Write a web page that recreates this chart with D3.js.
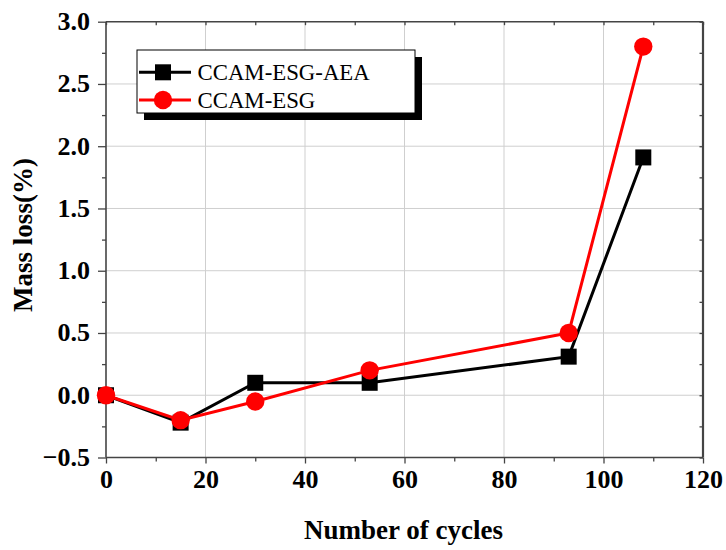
<!DOCTYPE html>
<html>
<head>
<meta charset="utf-8">
<script src="https://cdn.jsdelivr.net/npm/d3@7/dist/d3.min.js"></script>
<style>
  html, body { margin: 0; padding: 0; background: #fff; }
  svg { display: block; }
  .tick text { font-family: "Liberation Serif", "Times New Roman", serif; font-weight: bold; }
</style>
</head>
<body>
<svg id="chart" width="726" height="550"></svg>
<script>
// Mass loss vs. freeze-thaw cycles
const cycles = [0, 15, 30, 53, 93, 108];
const aeaLoss = [0, -0.22, 0.1, 0.1, 0.31, 1.91];   // CCAM-ESG-AEA
const esgLoss = [0, -0.2, -0.05, 0.2, 0.5, 2.8];    // CCAM-ESG
const seriesNames = ["CCAM-ESG-AEA", "CCAM-ESG"];
const xMajorTicks = [0, 20, 40, 60, 80, 100, 120];
const xMinorTicks = [10, 30, 50, 70, 90, 110];
const yMajorTicks = [-0.5, 0.0, 0.5, 1.0, 1.5, 2.0, 2.5, 3.0];
const yMinorTicks = [-0.25, 0.25, 0.75, 1.25, 1.75, 2.25, 2.75];

const svg = d3.select("#chart");
const L = 106, R = 703, T = 21.7, B = 457.5;

const x = d3.scaleLinear().domain([0, 120]).range([L, R]);
const y = d3.scaleLinear().domain([-0.5, 3.0]).range([B, T]);

const serif = '"Liberation Serif", "Times New Roman", serif';
const frameColor = "#444";

// grid
const grid = svg.append("g");
grid.selectAll("line.gx").data(xMajorTicks.slice(1, -1)).join("line")
  .attr("x1", d => x(d)).attr("x2", d => x(d)).attr("y1", T).attr("y2", B)
  .attr("stroke", "#cfcfcf").attr("stroke-width", 1);
grid.selectAll("line.gy").data(yMajorTicks.slice(1, -1)).join("line")
  .attr("y1", d => y(d)).attr("y2", d => y(d)).attr("x1", L).attr("x2", R)
  .attr("stroke", "#cfcfcf").attr("stroke-width", 1);

function styleAxis(g) {
  g.select(".domain").remove();
  g.selectAll(".tick line").attr("stroke", frameColor).attr("stroke-width", 1.3);
}

// bottom axis
svg.append("g").attr("transform", `translate(0,${B})`)
  .call(d3.axisBottom(x).tickValues(xMajorTicks).tickSize(6).tickPadding(4).tickFormat(d3.format("d")))
  .call(styleAxis)
  .selectAll("text").attr("font-size", 26).attr("fill", "#000").attr("font-family", serif)
  .attr("dy", "0.78em");
svg.append("g").attr("transform", `translate(0,${B})`)
  .call(d3.axisBottom(x).tickValues(xMinorTicks).tickSize(4).tickFormat(""))
  .call(styleAxis);

// left axis
svg.append("g").attr("transform", `translate(${L},0)`)
  .call(d3.axisLeft(y).tickValues(yMajorTicks).tickSize(8).tickPadding(8).tickFormat(d3.format(".1f")))
  .call(styleAxis)
  .selectAll("text").attr("font-size", 26).attr("fill", "#000").attr("font-family", serif)
  .attr("dy", "0.3em");
svg.append("g").attr("transform", `translate(${L},0)`)
  .call(d3.axisLeft(y).tickValues(yMinorTicks).tickSize(4).tickFormat(""))
  .call(styleAxis);

// top & right mirror ticks (inward)
svg.append("g").attr("transform", `translate(0,${T})`)
  .call(d3.axisBottom(x).tickValues(xMajorTicks.concat(xMinorTicks)).tickSize(3.5).tickFormat(""))
  .call(styleAxis);
svg.append("g").attr("transform", `translate(${R},0)`)
  .call(d3.axisLeft(y).tickValues(yMajorTicks.concat(yMinorTicks)).tickSize(3.5).tickFormat(""))
  .call(styleAxis);

// frame
svg.append("line").attr("x1", L).attr("x2", R).attr("y1", B).attr("y2", B)
  .attr("stroke", frameColor).attr("stroke-width", 1.6);
svg.append("line").attr("x1", L).attr("x2", L).attr("y1", T).attr("y2", B)
  .attr("stroke", frameColor).attr("stroke-width", 1.6);
svg.append("line").attr("x1", L).attr("x2", R).attr("y1", T).attr("y2", T)
  .attr("stroke", frameColor).attr("stroke-width", 1.6);
svg.append("line").attr("x1", R).attr("x2", R).attr("y1", T).attr("y2", B)
  .attr("stroke", frameColor).attr("stroke-width", 2.2);

// series
const line = d3.line().x(d => x(d[0])).y(d => y(d[1]));
const aeaPts = cycles.map((c, i) => [c, aeaLoss[i]]);
const esgPts = cycles.map((c, i) => [c, esgLoss[i]]);

svg.append("path").datum(aeaPts).attr("d", line)
  .attr("fill", "none").attr("stroke", "#000").attr("stroke-width", 3);
svg.append("g").selectAll("rect").data(aeaPts).join("rect")
  .attr("x", d => x(d[0]) - 8).attr("y", d => y(d[1]) - 8)
  .attr("width", 16).attr("height", 16).attr("fill", "#000");

svg.append("path").datum(esgPts).attr("d", line)
  .attr("fill", "none").attr("stroke", "#ff0000").attr("stroke-width", 3);
svg.append("g").selectAll("circle").data(esgPts).join("circle")
  .attr("cx", d => x(d[0])).attr("cy", d => y(d[1])).attr("r", 9.2)
  .attr("fill", "#ff0000");

// axis titles
svg.append("text").attr("x", 403.5).attr("y", 539)
  .attr("text-anchor", "middle").attr("font-family", serif).attr("font-weight", "bold")
  .attr("font-size", 27).attr("fill", "#000").text("Number of cycles");
svg.append("text").attr("transform", "translate(32,235) rotate(-90)")
  .attr("text-anchor", "middle").attr("font-family", serif).attr("font-weight", "bold")
  .attr("font-size", 27).attr("fill", "#000").text("Mass loss(%)");

// legend
const lg = svg.append("g");
const lx = 137, ly = 50, lw = 278, lh = 63;
lg.append("rect").attr("x", lx + 7).attr("y", ly + 7).attr("width", lw).attr("height", lh).attr("fill", "#000");
lg.append("rect").attr("x", lx).attr("y", ly).attr("width", lw).attr("height", lh)
  .attr("fill", "#fff").attr("stroke", "#000").attr("stroke-width", 1);
const rows = [72.3, 100];
// row 1
lg.append("line").attr("x1", 139).attr("x2", 191).attr("y1", rows[0]).attr("y2", rows[0])
  .attr("stroke", "#000").attr("stroke-width", 3);
lg.append("rect").attr("x", 163 - 8).attr("y", rows[0] - 8).attr("width", 16).attr("height", 16).attr("fill", "#000");
// row 2
lg.append("line").attr("x1", 139).attr("x2", 191).attr("y1", rows[1]).attr("y2", rows[1])
  .attr("stroke", "#ff0000").attr("stroke-width", 3);
lg.append("circle").attr("cx", 163).attr("cy", rows[1]).attr("r", 9.2).attr("fill", "#ff0000");
lg.selectAll("text.lt").data(seriesNames).join("text")
  .attr("x", 197.5).attr("y", (d, i) => rows[i]).attr("dy", "0.35em")
  .attr("font-family", serif).attr("font-size", 22.8).attr("fill", "#000").text(d => d);
</script>
</body>
</html>
